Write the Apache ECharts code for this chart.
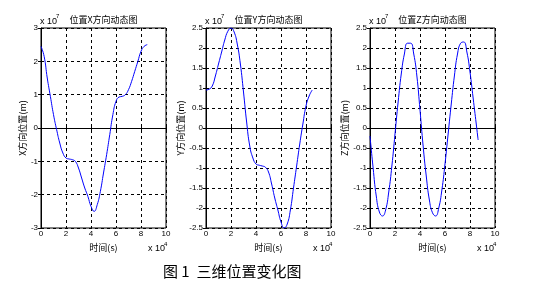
<!DOCTYPE html>
<html><head><meta charset="utf-8">
<script src="https://cdn.jsdelivr.net/npm/echarts@6/dist/echarts.min.js"></script>
<style>html,body{margin:0;padding:0;background:#fff}#c{width:535px;height:283px}</style>
</head><body><div id="c"></div>
<script>
var tX = [0,0.25,0.5,0.75,1,1.25,1.5,1.75,2,2.25,2.5,2.75,3,3.25,3.5,3.75,4,4.25,4.5,4.75,5,5.25,5.5,5.75,6,6.25,6.5,6.75,7,7.25,7.5,7.75,8,8.25,8.5];
var xVals = [2.45,2.15,1.5,0.95,0.4,-0.05,-0.45,-0.75,-0.9,-0.93,-0.95,-1.0,-1.2,-1.5,-1.8,-2.05,-2.35,-2.5,-2.3,-1.9,-1.35,-0.8,-0.2,0.4,0.8,0.93,0.95,1.0,1.15,1.4,1.7,2.0,2.3,2.45,2.5];
var tY = tX;
var yVals = [0.95,0.97,1.05,1.3,1.6,1.9,2.2,2.42,2.5,2.4,2.1,1.6,0.9,0.15,-0.45,-0.75,-0.9,-0.93,-0.95,-0.98,-1.1,-1.4,-1.75,-2.05,-2.35,-2.5,-2.4,-2.05,-1.5,-0.95,-0.4,0.1,0.55,0.8,0.95];
var tZ = [0,0.25,0.5,0.75,1,1.25,1.5,1.75,2,2.25,2.5,2.75,3,3.25,3.5,3.75,4,4.25,4.5,4.75,5,5.25,5.5,5.75,6,6.25,6.5,6.75,7,7.25,7.5,7.75,8,8.25,8.5,8.65];
var zVals = [-0.2,-1.0,-1.7,-2.1,-2.2,-2.05,-1.6,-0.95,-0.15,0.65,1.35,1.85,2.12,2.12,1.85,1.3,0.45,-0.45,-1.2,-1.8,-2.12,-2.2,-2.0,-1.55,-0.9,-0.15,0.6,1.3,1.85,2.12,2.15,1.9,1.4,0.75,0.1,-0.3];
var xTicks = [0,2,4,6,8,10];
var titles = ['位置X方向动态图','位置Y方向动态图','位置Z方向动态图'];
var yNames = ['X方向位置(m)','Y方向位置(m)','Z方向位置(m)'];
var xName = '时间(s)';
var caption = '图 1  三维位置变化图';
var yRanges = [[-3,3,1],[-2.5,2.5,0.5],[-2.5,2.5,0.5]];

var chart = echarts.init(document.getElementById('c'), null, {renderer:'canvas'});
var lefts = [41,206,370];
var gaps = [14,19,18];
var font = 'Liberation Sans, Arial, sans-serif';
var cjk = 'Noto Sans CJK SC, sans-serif';
function pairs(t,v){return t.map(function(x,i){return [x,v[i]];});}
var datas = [pairs(tX,xVals),pairs(tY,yVals),pairs(tZ,zVals)];
var grids=[],xAxes=[],yAxes=[],series=[],graphics=[];
for(var i=0;i<3;i++){
  grids.push({left:lefts[i],top:28,width:125,height:200,show:true,borderColor:'#000',borderWidth:1,containLabel:false});
  var dash={show:true,lineStyle:{color:'#000',type:[3,3],width:1}};
  xAxes.push({gridIndex:i,type:'value',min:0,max:10,interval:2,
    axisLine:{show:true,lineStyle:{color:'#000'}},axisTick:{show:true,inside:true,length:3,lineStyle:{color:'#000'}},
    axisLabel:{color:'#000',fontSize:8,fontFamily:font,margin:2,formatter:function(v){return xTicks.indexOf(v)>=0?String(v):'';}},
    splitLine:dash,name:xName,nameLocation:'middle',nameGap:12,nameTextStyle:{color:'#000',fontSize:9,fontFamily:cjk}});
  xAxes.push({gridIndex:i,type:'value',min:0,max:10,interval:2,position:'top',
    axisLine:{show:false},axisTick:{show:true,inside:true,length:3,lineStyle:{color:'#000'}},axisLabel:{show:false},splitLine:{show:false}});
  var r=yRanges[i];
  yAxes.push({gridIndex:i,type:'value',min:r[0],max:r[1],interval:r[2],
    axisLine:{show:true,lineStyle:{color:'#000'}},axisTick:{show:true,inside:true,length:3,lineStyle:{color:'#000'}},
    axisLabel:{color:'#000',fontSize:8,fontFamily:font,margin:3},
    splitLine:dash,name:yNames[i],nameLocation:'middle',nameGap:gaps[i],nameRotate:90,nameTextStyle:{color:'#000',fontSize:9,fontFamily:cjk}});
  yAxes.push({gridIndex:i,type:'value',min:r[0],max:r[1],interval:r[2],position:'right',
    axisLine:{show:false},axisTick:{show:true,inside:true,length:3,lineStyle:{color:'#000'}},axisLabel:{show:false},splitLine:{show:false}});
  series.push({type:'line',xAxisIndex:2*i,yAxisIndex:2*i,data:datas[i],smooth:true,showSymbol:false,symbol:'none',
    lineStyle:{color:'#0000ff',width:1},animation:false});
  graphics.push({type:'text',x:lefts[i]+62.5,y:20,style:{text:titles[i],fill:'#000',font:'9px '+cjk,textAlign:'center',textVerticalAlign:'middle'}});
  graphics.push({type:'text',x:lefts[i]-1,y:22,style:{text:'x 10',fill:'#000',font:'9px '+font,textVerticalAlign:'middle'}});
  graphics.push({type:'text',x:lefts[i]+15,y:16,style:{text:'7',fill:'#000',font:'6px '+font,textVerticalAlign:'middle'}});
  graphics.push({type:'text',x:lefts[i]+107,y:249,style:{text:'x 10',fill:'#000',font:'9px '+font,textVerticalAlign:'middle'}});
  graphics.push({type:'text',x:lefts[i]+123,y:244,style:{text:'4',fill:'#000',font:'6px '+font,textVerticalAlign:'middle'}});
}
graphics.push({type:'text',x:163,y:271,style:{text:caption,fill:'#000',font:'15px '+cjk,textVerticalAlign:'middle'}});
chart.setOption({animation:false,grid:grids,xAxis:xAxes,yAxis:yAxes,series:series,graphic:graphics});
</script></body></html>
